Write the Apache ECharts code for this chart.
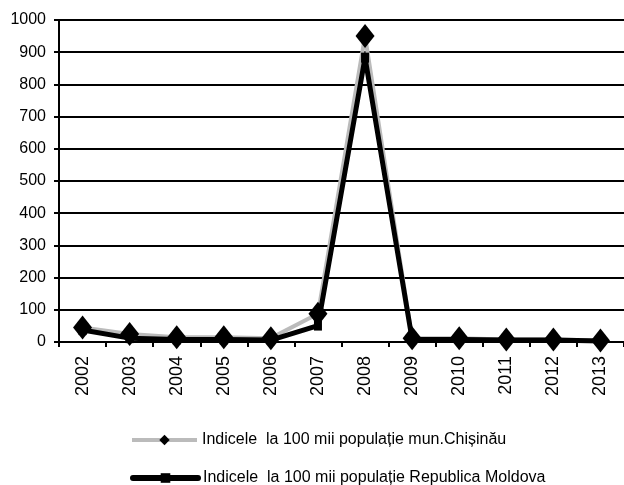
<!DOCTYPE html>
<html>
<head>
<meta charset="utf-8">
<script src="https://cdn.jsdelivr.net/npm/echarts@6/dist/echarts.min.js"></script>
<style>
html,body{margin:0;padding:0;background:#fff;overflow:hidden;}
#c{width:624px;height:485px;}
</style>
</head>
<body>
<div id="c"></div>
<script>
var years = ['2002','2003','2004','2005','2006','2007','2008','2009','2010','2011','2012','2013'];
var chisinau = [45, 25, 15, 15, 12, 88, 950, 12, 12, 8, 8, 5];
var moldova = [37, 12, 8, 8, 6, 51, 883, 8, 8, 6, 6, 3];
var yTicks = [0, 100, 200, 300, 400, 500, 600, 700, 800, 900, 1000];
var nameChis = 'Indicele  la 100 mii populație mun.Chișinău';
var nameMd = 'Indicele  la 100 mii populație Republica Moldova';

var font = "'Liberation Sans', Arial, sans-serif";

var chart = echarts.init(document.getElementById('c'), null, {renderer: 'canvas'});
chart.setOption({
  animation: false,
  backgroundColor: '#fff',
  grid: {left: 59, top: 20, width: 567, height: 322, containLabel: false},
  xAxis: {
    type: 'category',
    data: years,
    boundaryGap: true,
    axisLine: {lineStyle: {color: '#000', width: 2}},
    axisTick: {show: true, length: 5, alignWithLabel: false, lineStyle: {color: '#000', width: 2}},
    axisLabel: {rotate: 90, margin: 14, color: '#000', fontFamily: font, fontSize: 18, interval: 0},
    splitLine: {show: false}
  },
  yAxis: {
    type: 'value',
    min: yTicks[0],
    max: yTicks[yTicks.length - 1],
    interval: yTicks[1] - yTicks[0],
    axisLine: {show: true, lineStyle: {color: '#000', width: 2}},
    axisTick: {show: true, length: 5, lineStyle: {color: '#000', width: 2}},
    axisLabel: {margin: 13, color: '#000', fontFamily: font, fontSize: 16,
      formatter: function (v) { return String(v); }},
    splitLine: {show: true, lineStyle: {color: '#000', width: 2}}
  },
  legend: [
    {
      data: [nameChis], left: 125, top: 427, orient: 'vertical',
      itemWidth: 65, itemHeight: 13, itemGap: 0,
      lineStyle: {width: 4},
      textStyle: {color: '#000', fontFamily: font, fontSize: 16, padding: [0,0,0,0]},
      selectedMode: false
    },
    {
      data: [nameMd], left: 125, top: 465, orient: 'vertical',
      itemWidth: 65, itemHeight: 12, itemGap: 0,
      lineStyle: {width: 6, cap: 'round'},
      textStyle: {color: '#000', fontFamily: font, fontSize: 16, padding: [0,0,0,0]},
      selectedMode: false
    }
  ],
  series: [
    {
      name: nameChis,
      type: 'line',
      data: chisinau,
      symbol: 'diamond',
      symbolSize: [19, 24],
      showAllSymbol: true,
      itemStyle: {color: '#000'},
      lineStyle: {color: '#bbbbbb', width: 4, join: 'round'},
      z: 2
    },
    {
      name: nameMd,
      type: 'line',
      data: moldova,
      symbol: 'rect',
      symbolSize: [8, 10],
      showAllSymbol: true,
      itemStyle: {color: '#000'},
      lineStyle: {color: '#000', width: 5, join: 'round'},
      z: 3
    }
  ]
});
</script>
</body>
</html>
